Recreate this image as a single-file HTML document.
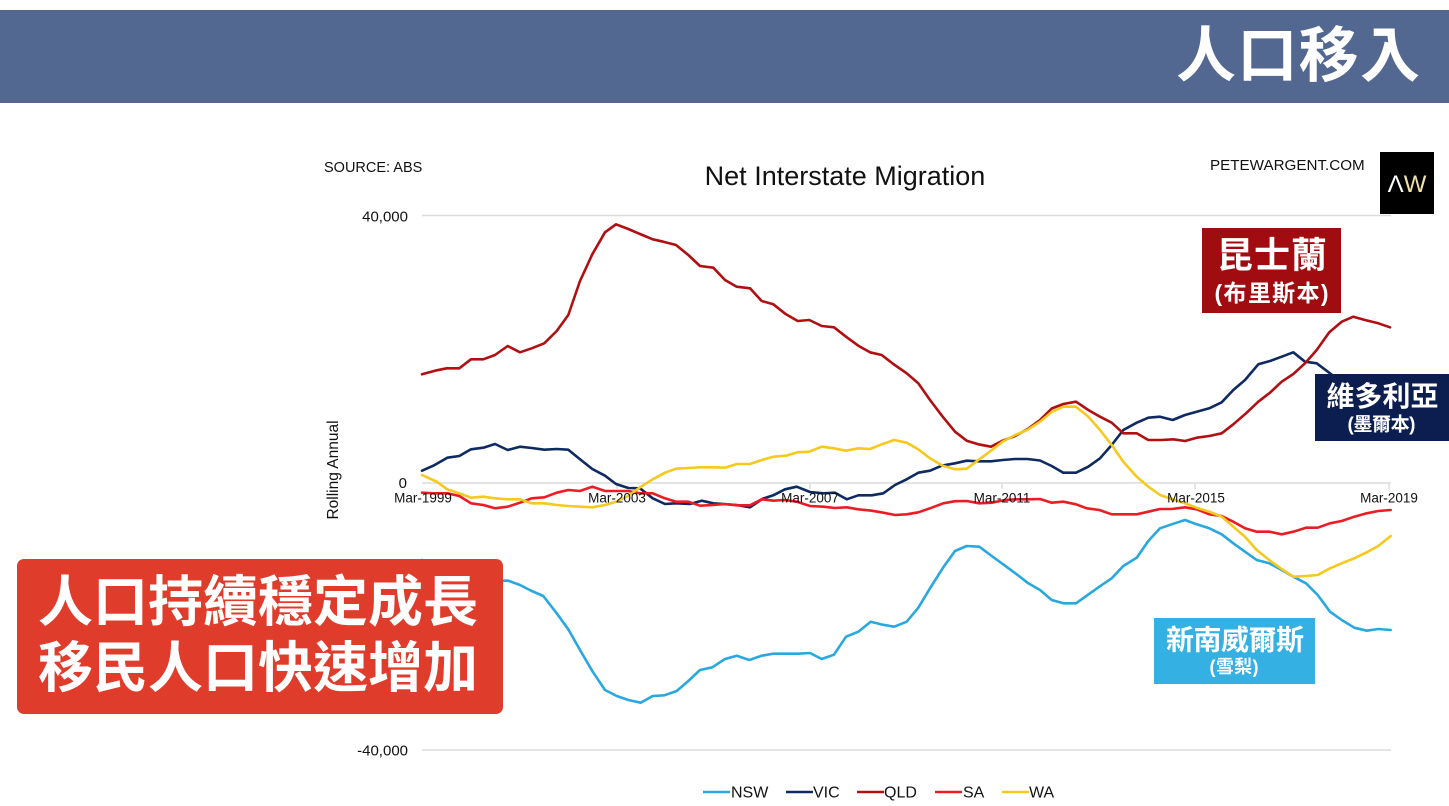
<!DOCTYPE html>
<html>
<head>
<meta charset="utf-8">
<style>
  html,body{margin:0;padding:0;background:#fff;}
  body{width:1449px;height:806px;overflow:hidden;}
  svg{display:block;}
  .lat{font-family:"Liberation Sans",Arial,sans-serif;}
  .cjk{font-family:"Liberation Sans","Noto Sans CJK TC","Noto Sans CJK SC",sans-serif;font-weight:700;}
</style>
</head>
<body>
<svg width="1449" height="806" viewBox="0 0 1449 806" xmlns="http://www.w3.org/2000/svg">
  <rect x="0" y="0" width="1449" height="806" fill="#ffffff"/>
  <!-- header band -->
  <rect x="0" y="10" width="1449" height="93" fill="#536891"/>
  <text class="cjk" x="1298" y="56" fill="#ffffff" font-size="60" text-anchor="middle" dominant-baseline="central" textLength="244" lengthAdjust="spacing">人口移入</text>

  <!-- chart header texts -->
  <text class="lat" x="324" y="172" font-size="14.5" fill="#111">SOURCE: ABS</text>
  <text class="lat" x="845" y="185" font-size="27" fill="#111" text-anchor="middle">Net Interstate Migration</text>
  <text class="lat" x="1210" y="170" font-size="15.2" fill="#111">PETEWARGENT.COM</text>

  <!-- logo -->
  <rect x="1380" y="152" width="54" height="62" fill="#000"/>
  <text class="lat" x="1407" y="192" font-size="24" text-anchor="middle"><tspan fill="#ffffff">Λ</tspan><tspan fill="#efe3a8">W</tspan></text>

  <!-- gridlines -->
  <g stroke="#dcdcdc" stroke-width="1.5">
    <line x1="422" y1="215.5" x2="1391" y2="215.5"/>
    <line x1="422" y1="483" x2="1391" y2="483"/>
    <line x1="422" y1="750" x2="1391" y2="750"/>
    <line x1="617" y1="483" x2="617" y2="489"/>
    <line x1="810" y1="483" x2="810" y2="489"/>
    <line x1="1002" y1="483" x2="1002" y2="489"/>
    <line x1="1195" y1="483" x2="1195" y2="489"/>
    <line x1="1389" y1="483" x2="1389" y2="489"/>
  </g>

  <!-- y labels -->
  <g class="lat" font-size="15" fill="#111" text-anchor="end">
    <text x="408" y="221.5">40,000</text>
    <text x="407" y="488">0</text>
    <text x="408" y="755.5">-40,000</text>
  </g>
  <text class="lat" font-size="15.5" fill="#111" text-anchor="middle" transform="translate(338,470) rotate(-90)">Rolling Annual</text>

  <!-- series -->
  <g fill="none" stroke-width="2.6" stroke-linejoin="round" stroke-linecap="round">
    <polyline stroke="#29A8DF" points="422,560 435,565 447,568 459,570 471,572 483,575 495,578 502.7,580.7 508.3,580.7 520,585 531.7,591 543.3,596 556.7,613.3 568.3,629.3 580,650 592.7,671.7 605,690 616.7,696 628.3,700 640.7,702.7 652.7,696 664.3,695.3 676.7,691 688.3,681 700,670 712.3,667.3 725,659 736.7,655.7 749.3,660 761.7,655.7 773.3,653.7 786,653.7 798.3,653.7 810,653 821.7,659 834,654.7 846,636.7 858.3,631.7 870.7,621.7 882.7,624.7 894.3,626.7 906.7,621.7 918.3,607.7 930,588.3 943.3,567.3 955,551 966.7,546 979.3,546.7 991.7,556 1005,565.7 1016.7,574.3 1028.3,583.3 1040,590 1051.7,600 1063.3,603.3 1076,603.3 1086.7,595.7 1099.3,586.7 1111.7,578.3 1123.3,566 1136.7,557.7 1148.3,541 1160,528.3 1171.7,524.3 1185,520 1196.7,524.3 1209.3,528.3 1221.7,534.3 1233.3,543.3 1245,551.7 1256.7,560 1269.3,563.3 1281.7,570 1293.3,576.7 1306,583.3 1317.7,595 1330,611.7 1341.7,620 1354.3,627.7 1366.7,630.7 1378.3,629 1390.7,630"/>
    <polyline stroke="#0E2A60" points="422,470.7 433.3,465.7 447.3,457.7 459.3,456 471,449.3 483.3,447.7 495,444 507.7,450 520,446.7 531.7,448 544.3,449.7 556.7,449 568.3,449.7 580,459.3 592.3,469 605,475.7 616,484 628.3,488 640,488.3 652.7,498.3 665,504 676,503.3 690,504 701.7,500.7 713.3,503.3 736.7,505 750,507.3 762.7,498.7 773.3,495.3 785,489.3 796.7,486.7 810,492 823.3,493.3 835,492.7 846.7,499.3 858.3,495.3 871.7,495.3 883.3,493.3 895,485 906.7,479.3 918.3,472.7 930,470.7 941.7,465.7 955,463.3 966.7,460.7 978.3,461.3 991,461.3 1002.7,460 1015,459 1027.3,459 1040,460.5 1051.7,466 1063.3,472.7 1076,472.7 1088.3,466.7 1100,458.3 1111.7,445 1123.3,430 1136.7,422.7 1148.3,417.7 1160,416.7 1172.7,420 1185,415 1196.7,411.7 1209.3,408.3 1221.7,402.3 1233.3,390 1245,380 1258.3,364.3 1270,361 1281.7,356.7 1293.3,352.3 1305,361.7 1316.7,363.3 1330,373.3 1345,385 1360,392 1375,398 1390,400"/>
    <polyline stroke="#B01012" points="422,374.3 435,370.7 446.7,368.3 459.3,368.3 471,359.3 483.3,359.3 495,355 507.7,346 520,352.3 531.7,348.3 544.3,343.3 556.7,331 568.3,315 580,281 592.3,254.3 605,232.3 616,224.3 628.3,229 640,234 652.7,239.3 663.3,241.7 676,245 688.3,255 700,266 713.3,267.7 725,280 736.7,286.7 750,288.3 761.7,301 773.3,304.3 786,314.3 797.7,321 809.3,320 821.7,326 834,327.3 846,336.7 858.3,345.7 870,352.3 881.7,355 893.3,364 906.7,373.3 918.3,383.3 930,400 942.7,416.7 955,431.7 966.7,440.7 978.3,444.3 991,446.7 1002.7,440.7 1015,436 1027.3,429.3 1040,420 1051.7,408.5 1063.3,404 1076,401.7 1088.3,410 1100,416.7 1111.7,422.7 1123.3,433.3 1136.7,433.3 1148.3,440 1161.7,440 1173.3,439.3 1185,441 1196.7,437.7 1209.3,436 1221.7,433.3 1233.3,424.3 1246,413.3 1258.3,401.7 1270,392.7 1281.7,381.7 1293.3,374 1305,363.3 1316.7,350 1329.3,332.3 1341.7,321.7 1353.3,316.7 1365,320 1378.3,323.3 1390,327.3"/>
    <polyline stroke="#EC1C24" points="422,492.7 433.3,493.3 447.3,493.3 459.3,496 471,503.3 483.3,505 495,508.3 507.7,506.7 520,502.7 531.7,498.3 544.3,497.3 556.7,492.7 568.3,490 580,491 592.3,486.7 605,491 616,491 628.3,491 640,493.3 652.7,493.3 663.3,497.7 676,501.7 688.3,501.7 700,505.7 713.3,505 725,504 736.7,505.3 750,505.3 761.7,499.3 773.3,500.7 785,500 796.7,501.7 810,506 823.3,506.7 835,508 846.7,507.3 858.3,509.3 871.7,510.7 883.3,512.7 895,515 906.7,514.3 918.3,512.3 930,508.3 943.3,503.3 955,501.2 966.7,501 979.3,503.3 991.7,502.7 1005,500 1016.7,499.3 1028.3,499.3 1040,499 1051.7,502.7 1063.3,501.7 1076,504.3 1086.7,508.3 1099.3,510 1111.7,514.3 1123.3,514.3 1136.7,514.3 1148.3,511.7 1160,509 1171.7,509 1185,507.3 1196.7,509.3 1209.3,514.3 1221.7,516 1233.3,521.7 1245,528.3 1256.7,531.7 1269.3,531.7 1281.7,534.3 1293.3,531.7 1306,527.7 1317.7,527.7 1330,523.3 1341.7,521 1354.3,516.7 1366.7,513.3 1378.3,511 1390.7,510"/>
    <polyline stroke="#F5C91E" points="422,475 436.7,481.7 447.3,489.3 459.3,493.3 471,497.7 483.3,496.7 495,498.3 507.7,499.3 520,499.3 531.7,503.3 544.3,503.3 556.7,505 568.3,506 580,506.7 592.3,507.3 605,505 616,501.7 628.3,496 640,487.3 652.7,479.3 665,472.7 676,468.7 688.3,468 700,467.3 712.3,467.3 725,467.7 736.7,464 750,464 761.7,460 773.3,456.7 786,455.7 797.7,452.3 809.3,451.7 821.7,446.7 834,448.3 846,450.7 858.3,448.3 870,449 881.7,444.3 894.3,440 906.7,442.7 918.3,449.3 930,458.3 942.7,465.7 955,469.3 966.7,468.7 978.3,460 991,450.7 1002.7,441.7 1015,435 1027.3,430 1040,421.7 1051.7,412 1063.3,406.7 1076,406.7 1088.3,416.7 1100,430 1111.7,445 1123.3,461.7 1136.7,476.7 1148.3,486.7 1160,495 1171.7,499 1185,503.3 1196.7,507.7 1209.3,511.7 1221.7,516.7 1233.3,526.7 1245,536.7 1256.7,550 1269.3,560 1281.7,569 1293.3,576.7 1306,576 1317.7,575 1330,568.3 1341.7,563.3 1354.3,558.3 1366.7,552.3 1378.3,546 1390.7,536"/>
  </g>

  <!-- x labels -->
  <g class="lat" font-size="13.5" fill="#111" text-anchor="middle">
    <text x="423" y="502.5">Mar-1999</text>
    <text x="617" y="502.5">Mar-2003</text>
    <text x="810" y="502.5">Mar-2007</text>
    <text x="1002" y="502.5">Mar-2011</text>
    <text x="1196" y="502.5">Mar-2015</text>
    <text x="1389" y="502.5">Mar-2019</text>
  </g>

  <!-- legend -->
  <g stroke-width="2.6">
    <line x1="703" y1="792" x2="730" y2="792" stroke="#29A8DF"/>
    <line x1="786" y1="792" x2="813" y2="792" stroke="#0E2A60"/>
    <line x1="857" y1="792" x2="884" y2="792" stroke="#B01012"/>
    <line x1="935" y1="792" x2="962" y2="792" stroke="#EC1C24"/>
    <line x1="1002" y1="792" x2="1029" y2="792" stroke="#F5C91E"/>
  </g>
  <g class="lat" font-size="16" fill="#111">
    <text x="731" y="797.7">NSW</text>
    <text x="813" y="797.7">VIC</text>
    <text x="884" y="797.7">QLD</text>
    <text x="963" y="797.7">SA</text>
    <text x="1029" y="797.7">WA</text>
  </g>

  <!-- annotation boxes -->
  <rect x="1202" y="228" width="139" height="85" fill="#A10C10"/>
  <text class="cjk" x="1272" y="255" fill="#fff" font-size="36" text-anchor="middle" dominant-baseline="central" textLength="110" lengthAdjust="spacing">昆士蘭</text>
  <text class="cjk" x="1271.5" y="293" fill="#fff" font-size="23" text-anchor="middle" dominant-baseline="central" textLength="114" lengthAdjust="spacing">(布里斯本)</text>

  <rect x="1315" y="374" width="134" height="67" fill="#0C1D50"/>
  <text class="cjk" x="1382.5" y="396.5" fill="#fff" font-size="28" text-anchor="middle" dominant-baseline="central" textLength="112" lengthAdjust="spacing">維多利亞</text>
  <text class="cjk" x="1381.5" y="425" fill="#fff" font-size="19" text-anchor="middle" dominant-baseline="central" textLength="68" lengthAdjust="spacing">(墨爾本)</text>

  <rect x="1154" y="618" width="161" height="66" fill="#34B0E2"/>
  <text class="cjk" x="1235" y="640" fill="#fff" font-size="28" text-anchor="middle" dominant-baseline="central" textLength="138" lengthAdjust="spacing">新南威爾斯</text>
  <text class="cjk" x="1234" y="667" fill="#fff" font-size="18" text-anchor="middle" dominant-baseline="central" textLength="49" lengthAdjust="spacing">(雪梨)</text>

  <rect x="17" y="559" width="486" height="155" rx="7" ry="7" fill="#E03C2C"/>
  <text class="cjk" x="258" y="602" fill="#fff" font-size="55" text-anchor="middle" dominant-baseline="central" textLength="440" lengthAdjust="spacing">人口持續穩定成長</text>
  <text class="cjk" x="258" y="668" fill="#fff" font-size="55" text-anchor="middle" dominant-baseline="central" textLength="440" lengthAdjust="spacing">移民人口快速增加</text>
</svg>
</body>
</html>
